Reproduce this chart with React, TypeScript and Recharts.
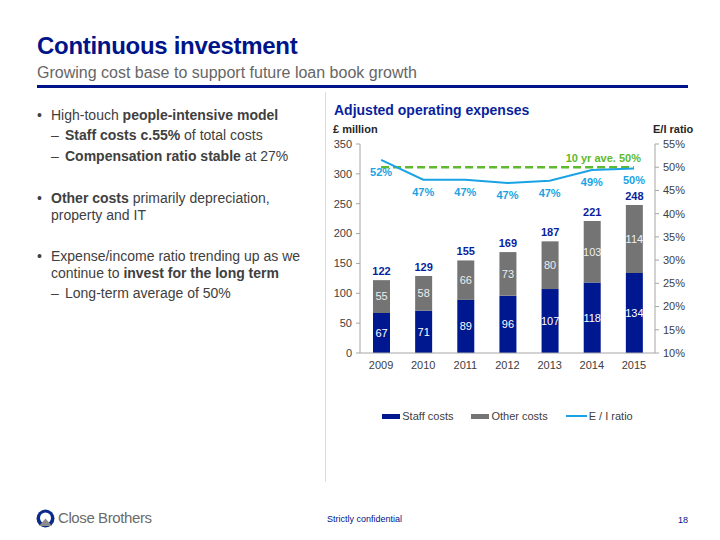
import React from 'react';
import { ComposedChart, Bar, Line, XAxis, YAxis, LabelList, ReferenceLine } from 'recharts';

// chart values
const years = ['2009', '2010', '2011', '2012', '2013', '2014', '2015'];
const staffCosts = [67, 71, 89, 96, 107, 118, 134];
const otherCosts = [55, 58, 66, 73, 80, 103, 114];
const totalCosts = [122, 129, 155, 169, 187, 221, 248];
const eiRatio = [51.6, 47.3, 47.3, 46.6, 47.1, 49.4, 49.7];
const eiRatioLabels = [52, 47, 47, 47, 47, 49, 50];
const costTicks = [0, 50, 100, 150, 200, 250, 300, 350];
const ratioTicks = [10, 15, 20, 25, 30, 35, 40, 45, 50, 55];
const tenYearAverage = 50;

const DARK_BLUE = '#00188f';
const GREY = '#747474';
const LIGHT_BLUE = '#1aa3e4';
const GREEN = '#5db92e';
const FONT = '"Liberation Sans", Arial, sans-serif';

const data = years.map((year, i) => ({
  year,
  staff: staffCosts[i],
  other: otherCosts[i],
  total: totalCosts[i],
  ratio: eiRatio[i],
  ratioLabel: eiRatioLabels[i],
}));

const legendItems = [
  { name: 'Staff costs', color: DARK_BLUE, kind: 'bar' },
  { name: 'Other costs', color: GREY, kind: 'bar' },
  { name: 'E / I ratio', color: LIGHT_BLUE, kind: 'line' },
];

// slide text on the left
type Seg = { t: string; b?: boolean };
const bulletLines: { y: number; mark?: string; indent: number; segs: Seg[] }[] = [
  { y: 115, mark: '•', indent: 0, segs: [{ t: 'High-touch ' }, { t: 'people-intensive model', b: true }] },
  { y: 135, mark: '–', indent: 1, segs: [{ t: 'Staff costs c.55%', b: true }, { t: ' of total costs' }] },
  { y: 156, mark: '–', indent: 1, segs: [{ t: 'Compensation ratio stable', b: true }, { t: ' at 27%' }] },
  { y: 198, mark: '•', indent: 0, segs: [{ t: 'Other costs', b: true }, { t: ' primarily depreciation,' }] },
  { y: 215, indent: 0, segs: [{ t: 'property and IT' }] },
  { y: 256, mark: '•', indent: 0, segs: [{ t: 'Expense/income ratio trending up as we' }] },
  { y: 273, indent: 0, segs: [{ t: 'continue to ' }, { t: 'invest for the long term', b: true }] },
  { y: 293, mark: '–', indent: 1, segs: [{ t: 'Long-term average of 50%' }] },
];

const AverageLabel = (props: any) => {
  const vb = props.viewBox || {};
  return (
    <text
      x={vb.x + vb.width + 7}
      y={vb.y - 5}
      textAnchor="end"
      fill={GREEN}
      fontSize={11}
      fontWeight="bold"
      fontFamily={FONT}
    >
      10 yr ave. 50%
    </text>
  );
};

export default function App() {
  return (
    <div
      style={{
        position: 'absolute',
        left: 0,
        top: 0,
        width: 720,
        height: 540,
        background: '#fff',
        fontFamily: FONT,
        overflow: 'hidden',
      }}
    >
      {/* Header */}
      <div style={{ position: 'absolute', left: 37, top: 32, fontSize: 24, lineHeight: '28px', fontWeight: 'bold', color: '#001489', letterSpacing: -0.3 }}>
        Continuous investment
      </div>
      <div style={{ position: 'absolute', left: 37, top: 63, fontSize: 16, lineHeight: '20px', color: '#666' }}>
        Growing cost base to support future loan book growth
      </div>
      <div style={{ position: 'absolute', left: 37, top: 85, width: 651, height: 3, background: '#001489' }} />

      {/* Separator */}
      <div style={{ position: 'absolute', left: 325, top: 92, width: 1, height: 390, background: '#dcdcdc' }} />

      {/* Bullets */}
      {bulletLines.map((line, i) => (
        <div
          key={i}
          style={{ position: 'absolute', top: line.y - 9, left: 0, fontSize: 14, lineHeight: '18px', color: '#404040', whiteSpace: 'nowrap' }}
        >
          {line.mark && (
            <span style={{ position: 'absolute', left: line.indent ? 51 : 37 }}>{line.mark}</span>
          )}
          <span style={{ position: 'absolute', left: line.indent ? 65 : 51 }}>
            {line.segs.map((s, j) => (
              <span key={j} style={{ fontWeight: s.b ? 'bold' : 'normal' }}>{s.t}</span>
            ))}
          </span>
        </div>
      ))}

      {/* Chart titles */}
      <div style={{ position: 'absolute', left: 334, top: 101, fontSize: 14, lineHeight: '18px', fontWeight: 'bold', color: '#0a1f9c' }}>
        Adjusted operating expenses
      </div>
      <div style={{ position: 'absolute', left: 333, top: 122, fontSize: 11, lineHeight: '14px', fontWeight: 'bold', color: '#262626' }}>
        £ million
      </div>
      <div style={{ position: 'absolute', left: 653, top: 122, fontSize: 11, lineHeight: '14px', fontWeight: 'bold', color: '#262626' }}>
        E/I ratio
      </div>

      <div style={{ position: 'absolute', left: 320, top: 100 }}>
        <ComposedChart
          width={400}
          height={300}
          data={data}
          margin={{ top: 44, right: 0, left: 0, bottom: 17 }}
          barCategoryGap={0}
        >
          <XAxis
            dataKey="year"
            tickLine={false}
            axisLine={{ stroke: '#a6a6a6' }}
            tick={{ fill: '#404040', fontSize: 11, fontFamily: FONT }}
            interval={0}
          />
          <YAxis
            yAxisId="left"
            width={40}
            domain={[0, 350]}
            ticks={costTicks}
            tickSize={4}
            tickMargin={4}
            axisLine={{ stroke: '#a6a6a6' }}
            tickLine={{ stroke: '#a6a6a6' }}
            tick={{ fill: '#404040', fontSize: 11, fontFamily: FONT }}
          />
          <YAxis
            yAxisId="right"
            orientation="right"
            width={65}
            domain={[10, 55]}
            ticks={ratioTicks}
            tickSize={4}
            tickMargin={4}
            tickFormatter={(v) => `${v}%`}
            axisLine={{ stroke: '#a6a6a6' }}
            tickLine={{ stroke: '#a6a6a6' }}
            tick={{ fill: '#404040', fontSize: 11, fontFamily: FONT }}
          />
          <Bar yAxisId="left" dataKey="staff" stackId="costs" fill={DARK_BLUE} barSize={17} isAnimationActive={false}>
            <LabelList dataKey="staff" position="center" fill="#ffffff" fontSize={11} fontFamily={FONT} />
          </Bar>
          <Bar yAxisId="left" dataKey="other" stackId="costs" fill={GREY} barSize={17} isAnimationActive={false}>
            <LabelList dataKey="other" position="center" fill="#eeeeee" fontSize={11} fontFamily={FONT} />
            <LabelList dataKey="total" position="top" offset={5} fill="#0a1f9c" fontSize={11} fontWeight="bold" fontFamily={FONT} />
          </Bar>
          <ReferenceLine
            yAxisId="right"
            segment={[{ x: years[0], y: tenYearAverage }, { x: years[years.length - 1], y: tenYearAverage }]}
            stroke={GREEN}
            strokeWidth={2.5}
            strokeDasharray="8 4"
            label={<AverageLabel />}
          />
          <Line
            yAxisId="right"
            dataKey="ratio"
            stroke={LIGHT_BLUE}
            strokeWidth={2}
            dot={false}
            isAnimationActive={false}
          >
            <LabelList
              dataKey="ratioLabel"
              position="bottom"
              offset={8}
              formatter={(v: any) => `${v}%`}
              fill={LIGHT_BLUE}
              fontSize={11}
              fontWeight="bold"
              fontFamily={FONT}
            />
          </Line>
        </ComposedChart>
      </div>

      {/* Legend */}
      <div
        style={{
          position: 'absolute',
          left: 360,
          top: 408,
          width: 295,
          display: 'flex',
          justifyContent: 'center',
          alignItems: 'center',
          gap: 18,
          fontSize: 11,
          lineHeight: '16px',
          color: '#404040',
        }}
      >
        {legendItems.map((item) => (
          <div key={item.name} style={{ display: 'flex', alignItems: 'center' }}>
            <div
              style={{
                width: item.kind === 'line' ? 21 : 18,
                height: item.kind === 'line' ? 2 : 5,
                background: item.color,
                marginRight: 2,
              }}
            />
            <span>{item.name}</span>
          </div>
        ))}
      </div>

      {/* Footer */}
      <svg style={{ position: 'absolute', left: 36, top: 509 }} width={19} height={19} viewBox="0 0 19 19">
        <circle cx={9.5} cy={9.5} r={9} fill="#0a2a8c" />
        <circle cx={9.5} cy={9} r={5.5} fill="#ffffff" />
        <path d="M3 17 L9.5 9.5 L16 17 Z" fill="#8c8c8c" />
      </svg>
      <div style={{ position: 'absolute', left: 58, top: 509, fontSize: 15, lineHeight: '18px', color: '#6b6b6b', letterSpacing: -0.4 }}>
        Close Brothers
      </div>
      <div style={{ position: 'absolute', left: 327, top: 513, fontSize: 9, lineHeight: '12px', color: '#001489' }}>
        Strictly confidential
      </div>
      <div style={{ position: 'absolute', left: 678, top: 514, fontSize: 9, lineHeight: '12px', color: '#001489' }}>
        18
      </div>
    </div>
  );
}
